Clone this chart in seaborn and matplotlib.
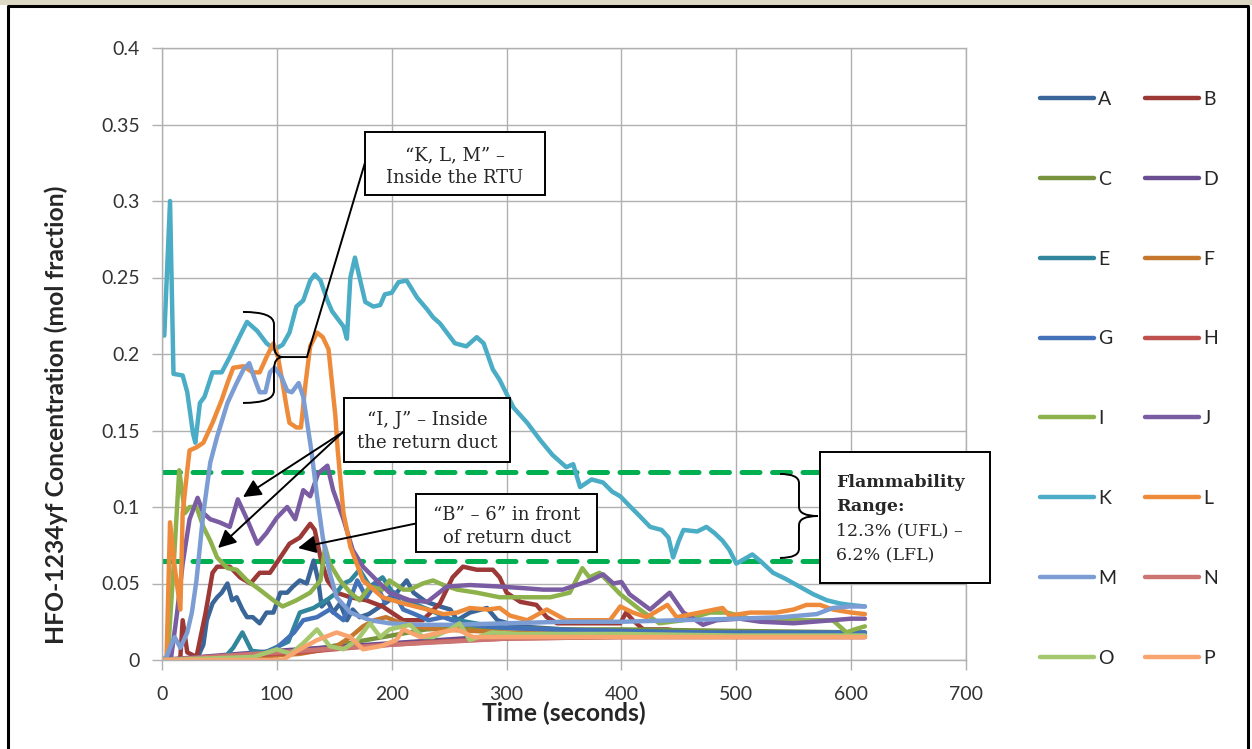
import numpy as np
import pandas as pd
import seaborn as sns
import matplotlib.pyplot as plt
from matplotlib.path import Path
from matplotlib.patches import PathPatch, Rectangle
from matplotlib.lines import Line2D

# sensor readings, HFO-1234yf mol fraction vs time (s)
time_a = [0, 30, 36, 39, 44, 48, 52, 57, 61, 65, 70, 74, 79, 85, 91, 97, 103, 109, 114, 120, 126, 132, 136, 139, 144,
          149, 155, 161, 166, 172, 180, 190, 200, 213, 219, 230, 242, 251, 257, 268, 283, 292, 310, 350, 400, 450, 500, 550, 612]
conc_a = [0, 0, 0.010, 0.026, 0.037, 0.041, 0.044, 0.050, 0.039, 0.041, 0.033, 0.028, 0.028, 0.024, 0.031, 0.031, 0.044,
          0.044, 0.048, 0.052, 0.050, 0.065, 0.052, 0.035, 0.039, 0.031, 0.037, 0.026, 0.033, 0.028, 0.030, 0.035, 0.040,
          0.052, 0.044, 0.038, 0.035, 0.033, 0.026, 0.031, 0.034, 0.026, 0.022, 0.020, 0.018, 0.017, 0.016, 0.016, 0.016]

time_b = [0, 14, 16, 18, 22, 30, 38, 44, 48, 59, 68, 77, 85, 94, 103, 111, 120, 129, 133, 138, 144, 152, 164, 178, 192,
          210, 227, 242, 253, 262, 274, 288, 294, 300, 312, 326, 335, 344, 361, 379, 399, 404, 410, 419, 440, 457, 500,
          550, 560, 570, 612]
conc_b = [0, 0, 0.002, 0.026, 0.005, 0.002, 0.031, 0.057, 0.061, 0.061, 0.054, 0.050, 0.057, 0.057, 0.067, 0.076, 0.080,
          0.089, 0.085, 0.067, 0.052, 0.044, 0.041, 0.039, 0.035, 0.026, 0.026, 0.037, 0.054, 0.061, 0.059, 0.059, 0.054,
          0.044, 0.038, 0.036, 0.028, 0.024, 0.024, 0.024, 0.024, 0.031, 0.026, 0.020, 0.020, 0.018, 0.017, 0.016, 0.018,
          0.016, 0.016]

time_c = [0, 60, 100, 140, 170, 200, 230, 260, 300, 350, 400, 500, 612]
conc_c = [0, 0.002, 0.005, 0.008, 0.012, 0.016, 0.020, 0.021, 0.021, 0.020, 0.020, 0.019, 0.018]

time_d = [0, 50, 100, 140, 180, 220, 260, 300, 400, 500, 612]
conc_d = [0, 0.003, 0.006, 0.008, 0.010, 0.012, 0.014, 0.016, 0.016, 0.016, 0.016]

time_e = [0, 55, 62, 70, 78, 90, 110, 120, 132, 145, 152, 158, 164, 172, 181, 192, 200, 210, 222, 235, 250, 265, 280,
          300, 330, 380, 450, 520, 612]
conc_e = [0, 0.002, 0.008, 0.018, 0.006, 0.005, 0.012, 0.031, 0.034, 0.040, 0.044, 0.050, 0.052, 0.059, 0.048, 0.054,
          0.045, 0.040, 0.036, 0.032, 0.027, 0.025, 0.023, 0.021, 0.020, 0.019, 0.018, 0.017, 0.017]

time_f = [0, 80, 120, 150, 164, 175, 185, 195, 205, 220, 240, 270, 300, 350, 400, 500, 612]
conc_f = [0, 0.002, 0.004, 0.008, 0.015, 0.022, 0.026, 0.028, 0.025, 0.022, 0.020, 0.019, 0.018, 0.017, 0.017, 0.016, 0.016]

time_g = [0, 80, 100, 115, 123, 135, 146, 158, 164, 170, 178, 186, 194, 202, 210, 220, 232, 245, 260, 280, 300, 340,
          400, 470, 540, 612]
conc_g = [0, 0.002, 0.008, 0.018, 0.026, 0.028, 0.033, 0.026, 0.040, 0.052, 0.041, 0.050, 0.038, 0.044, 0.033, 0.030,
          0.026, 0.028, 0.024, 0.022, 0.021, 0.020, 0.019, 0.018, 0.018, 0.018]

time_h = [0, 60, 120, 180, 240, 300, 400, 500, 612]
conc_h = [0, 0.002, 0.005, 0.009, 0.012, 0.014, 0.015, 0.015, 0.015]

time_i = [0, 5, 10, 15, 20, 24, 30, 36, 42, 48, 57, 65, 74, 85, 97, 105, 117, 129, 138, 142, 146, 155, 164, 172, 181,
          192, 198, 210, 216, 227, 236, 245, 257, 274, 294, 314, 338, 355, 366, 372, 381, 390, 399, 416, 433, 454, 477,
          492, 512, 544, 584, 596, 603, 612]
conc_i = [0, 0.002, 0.060, 0.124, 0.096, 0.100, 0.100, 0.087, 0.078, 0.067, 0.060, 0.059, 0.052, 0.046, 0.039, 0.035,
          0.039, 0.044, 0.052, 0.074, 0.063, 0.052, 0.044, 0.039, 0.048, 0.046, 0.052, 0.046, 0.046, 0.050, 0.052, 0.049,
          0.046, 0.044, 0.041, 0.041, 0.041, 0.044, 0.060, 0.054, 0.057, 0.050, 0.043, 0.033, 0.024, 0.026, 0.031, 0.031,
          0.027, 0.026, 0.026, 0.018, 0.020, 0.022]

time_j = [0, 8, 13, 18, 24, 31, 36, 42, 50, 59, 66, 74, 83, 91, 100, 109, 116, 123, 129, 136, 144, 149, 158, 166, 175,
          187, 198, 216, 231, 248, 268, 294, 314, 332, 349, 361, 373, 384, 393, 400, 407, 425, 442, 454, 471, 483, 503,
          521, 550, 584, 600, 612]
conc_j = [0, 0.002, 0.030, 0.063, 0.092, 0.106, 0.096, 0.092, 0.090, 0.087, 0.105, 0.092, 0.076, 0.083, 0.093, 0.100,
          0.092, 0.111, 0.107, 0.122, 0.127, 0.111, 0.092, 0.072, 0.061, 0.052, 0.044, 0.039, 0.038, 0.048, 0.049, 0.048,
          0.047, 0.046, 0.046, 0.049, 0.052, 0.056, 0.050, 0.051, 0.043, 0.033, 0.044, 0.031, 0.023, 0.026, 0.027, 0.025,
          0.024, 0.026, 0.027, 0.027]

time_k = [2, 7, 10, 18, 22, 27, 29, 33, 37, 44, 52, 59, 66, 74, 83, 91, 98, 105, 111, 117, 123, 129, 133, 138, 144, 148,
          152, 158, 161, 164, 168, 172, 177, 184, 190, 194, 200, 206, 213, 222, 231, 236, 242, 248, 255, 265, 274, 280,
          288, 294, 306, 318, 329, 340, 352, 358, 364, 374, 384, 392, 399, 408, 416, 425, 435, 441, 445, 450, 454, 466,
          474, 481, 488, 494, 500, 507, 514, 522, 532, 543, 555, 567, 579, 590, 599, 612]
conc_k = [0.212, 0.300, 0.187, 0.186, 0.175, 0.148, 0.142, 0.168, 0.172, 0.188, 0.188, 0.198, 0.209, 0.221, 0.215, 0.207,
          0.203, 0.206, 0.214, 0.231, 0.235, 0.248, 0.252, 0.248, 0.235, 0.228, 0.224, 0.218, 0.210, 0.250, 0.263, 0.250,
          0.234, 0.231, 0.232, 0.239, 0.240, 0.247, 0.248, 0.237, 0.229, 0.224, 0.220, 0.214, 0.207, 0.205, 0.211, 0.207,
          0.190, 0.183, 0.165, 0.155, 0.144, 0.134, 0.126, 0.128, 0.113, 0.118, 0.116, 0.110, 0.107, 0.100, 0.094, 0.087,
          0.085, 0.080, 0.067, 0.078, 0.085, 0.084, 0.087, 0.083, 0.078, 0.072, 0.063, 0.066, 0.069, 0.064, 0.057, 0.053,
          0.048, 0.043, 0.039, 0.037, 0.036, 0.035]

time_l = [0, 4, 7, 11, 16, 18, 22, 24, 30, 36, 44, 52, 57, 62, 71, 79, 85, 91, 97, 101, 105, 109, 111, 117, 121, 125,
          129, 135, 140, 145, 148, 151, 153, 158, 164, 175, 192, 210, 231, 245, 257, 268, 283, 294, 303, 318, 335, 352,
          372, 390, 399, 410, 422, 440, 448, 468, 488, 494, 512, 535, 550, 561, 573, 584, 600, 612]
conc_l = [0, 0.002, 0.090, 0.061, 0.033, 0.096, 0.124, 0.137, 0.139, 0.142, 0.155, 0.170, 0.181, 0.191, 0.192, 0.188,
          0.188, 0.198, 0.207, 0.198, 0.181, 0.163, 0.155, 0.152, 0.152, 0.181, 0.205, 0.214, 0.211, 0.203, 0.181, 0.159,
          0.137, 0.096, 0.074, 0.052, 0.041, 0.037, 0.033, 0.030, 0.031, 0.034, 0.033, 0.034, 0.029, 0.026, 0.033, 0.026,
          0.026, 0.026, 0.035, 0.031, 0.028, 0.036, 0.028, 0.031, 0.034, 0.029, 0.031, 0.031, 0.033, 0.036, 0.036, 0.033,
          0.031, 0.030]

time_m = [0, 4, 7, 11, 16, 22, 26, 30, 36, 42, 48, 57, 65, 71, 76, 81, 85, 90, 94, 98, 104, 109, 113, 119, 123, 127,
          130, 135, 140, 146, 152, 164, 181, 198, 222, 251, 300, 350, 400, 450, 500, 540, 570, 584, 599, 612]
conc_m = [0, 0.002, 0.008, 0.015, 0.008, 0.018, 0.031, 0.052, 0.096, 0.129, 0.146, 0.168, 0.181, 0.190, 0.194, 0.183,
          0.175, 0.175, 0.188, 0.191, 0.185, 0.176, 0.175, 0.181, 0.172, 0.152, 0.137, 0.107, 0.080, 0.057, 0.041, 0.031,
          0.026, 0.024, 0.023, 0.023, 0.024, 0.025, 0.025, 0.026, 0.027, 0.028, 0.030, 0.034, 0.035, 0.035]

time_n = [0, 40, 80, 120, 160, 200, 250, 300, 400, 500, 612]
conc_n = [0, 0.002, 0.004, 0.006, 0.008, 0.010, 0.012, 0.014, 0.015, 0.015, 0.015]

time_o = [0, 80, 100, 112, 123, 135, 146, 158, 170, 181, 190, 198, 216, 227, 236, 251, 259, 268, 287, 310, 350, 400, 500, 612]
conc_o = [0, 0.002, 0.007, 0.004, 0.011, 0.020, 0.009, 0.007, 0.013, 0.024, 0.015, 0.020, 0.023, 0.015, 0.015, 0.020,
          0.024, 0.013, 0.018, 0.017, 0.017, 0.017, 0.016, 0.016]

time_p = [0, 105, 120, 135, 152, 164, 175, 190, 204, 210, 225, 242, 257, 271, 300, 350, 400, 500, 612]
conc_p = [0, 0, 0.007, 0.013, 0.018, 0.015, 0.007, 0.009, 0.013, 0.020, 0.015, 0.018, 0.020, 0.015, 0.015, 0.015, 0.015,
          0.015, 0.015]

sensors = list('ABCDEFGHIJKLMNOP')
times = [time_a, time_b, time_c, time_d, time_e, time_f, time_g, time_h,
         time_i, time_j, time_k, time_l, time_m, time_n, time_o, time_p]
concs = [conc_a, conc_b, conc_c, conc_d, conc_e, conc_f, conc_g, conc_h,
         conc_i, conc_j, conc_k, conc_l, conc_m, conc_n, conc_o, conc_p]
colors = ['#3A6599', '#9C3835', '#77933C', '#6B4E91', '#31869B', '#C6772E', '#4472B8', '#C0504D',
          '#8DB14B', '#7A5CA3', '#4BACC6', '#EE8B3A', '#7B9DD3', '#CC7472', '#A5C86F', '#F8A46E']

ufl = 0.123
lfl = 0.065
x_ticks = [0, 100, 200, 300, 400, 500, 600, 700]
y_ticks = [0, 0.05, 0.1, 0.15, 0.2, 0.25, 0.3, 0.35, 0.4]
y_labels = ['0', '0.05', '0.1', '0.15', '0.2', '0.25', '0.3', '0.35', '0.4']

df = pd.concat([pd.DataFrame({'time': t, 'conc': c, 'sensor': s})
                for s, t, c in zip(sensors, times, concs)], ignore_index=True)

sns.set_style('white')
plt.rcParams['font.family'] = ['Lato', 'DejaVu Sans']

fig = plt.figure(figsize=(12.52, 7.49), dpi=100)
ax = fig.add_axes([162 / 1252, 1 - 660 / 749, 804 / 1252, 612 / 749])

sns.lineplot(data=df, x='time', y='conc', hue='sensor', hue_order=sensors,
             palette=dict(zip(sensors, colors)), lw=3.2, estimator=None,
             sort=False, legend=False, ax=ax)
for ln in ax.lines:
    ln.set_solid_joinstyle('round')
    ln.set_solid_capstyle('round')

# flammability limits
for lim in (ufl, lfl):
    ax.plot([0, 573], [lim, lim], color='#00B050', lw=3.6, ls=(0, (3.6, 2.5)),
            dash_capstyle='round', zorder=1.5)

ax.set_xlim(0, 700)
ax.set_ylim(0, 0.4)
ax.set_xticks(x_ticks)
ax.set_yticks(y_ticks)
ax.set_yticklabels(y_labels)
ax.grid(True, color='#B0B0B0', lw=1.0)
ax.set_axisbelow(True)
for sp in ax.spines.values():
    sp.set_color('#B0B0B0')
    sp.set_linewidth(1.0)
ax.tick_params(axis='both', which='major', direction='out', length=7, width=1.0,
               color='#B0B0B0', labelsize=14, labelcolor='#333333', pad=9,
               left=True, bottom=True)
ax.tick_params(axis='x', pad=12)
ax.set_xlabel('Time (seconds)', fontsize=17.8, fontweight='bold')
ax.set_ylabel('HFO-1234yf Concentration (mol fraction)', fontsize=17.8, fontweight='bold')
ax.xaxis.set_label_coords(0.5, -0.068)
ax.yaxis.set_label_coords(-0.117, 0.40)


def brace(x0, xv, xt, y_top, y_mid, y_bot, r):
    verts = [(x0, y_top), (xv, y_top), (xv, y_top - r),
             (xv, y_mid + r), (xv, y_mid), (xt, y_mid),
             (xv, y_mid), (xv, y_mid - r),
             (xv, y_bot + r), (xv, y_bot), (x0, y_bot)]
    codes = [Path.MOVETO, Path.CURVE3, Path.CURVE3,
             Path.LINETO, Path.CURVE3, Path.CURVE3,
             Path.CURVE3, Path.CURVE3,
             Path.LINETO, Path.CURVE3, Path.CURVE3]
    ax.add_patch(PathPatch(Path(verts, codes), fill=False, lw=1.4, ec='black',
                           zorder=5, clip_on=False))


serif = ['DejaVu Serif']
note_size = 13


def note_box(x0, x1, y0, y1):
    ax.add_patch(Rectangle((x0, y0), x1 - x0, y1 - y0, fc='white', ec='black',
                           lw=1.4, zorder=6, clip_on=False))


# K, L, M note
brace(70.5, 97.5, 105.3, 0.2275, 0.198, 0.168, 0.008)
ax.plot([105.3, 126.2, 176.7], [0.198, 0.198, 0.325], color='black', lw=1.4, zorder=5)
note_box(176.7, 333.4, 0.304, 0.345)
ax.text(255, 0.3300, '\u201cK, L, M\u201d \u2013', ha='center', va='center', fontsize=note_size,
        family=serif, zorder=7)
ax.text(255, 0.3150, 'Inside the RTU', ha='center', va='center', fontsize=note_size,
        family=serif, zorder=7)

# I, J note
arrow = dict(arrowstyle='-|>,head_length=0.6,head_width=0.3', color='black', lw=1.4,
             mutation_scale=18, shrinkA=0, shrinkB=0)
ax.annotate('', xy=(70.5, 0.1065), xytext=(157.6, 0.149), arrowprops=arrow, zorder=5)
ax.annotate('', xy=(48.8, 0.0732), xytext=(157.6, 0.149), arrowprops=arrow, zorder=5)
note_box(158.5, 303.0, 0.1294, 0.1712)
ax.text(231, 0.1569, '\u201cI, J\u201d \u2013 Inside', ha='center', va='center', fontsize=note_size,
        family=serif, zorder=7)
ax.text(231, 0.1418, 'the return duct', ha='center', va='center', fontsize=note_size,
        family=serif, zorder=7)

# B note
ax.annotate('', xy=(118.4, 0.0732), xytext=(222.9, 0.0895), arrowprops=arrow, zorder=5)
note_box(221.1, 378.7, 0.0706, 0.1085)
ax.text(300, 0.0948, '\u201cB\u201d \u2013 6\u201d in front', ha='center', va='center', fontsize=note_size,
        family=serif, zorder=7)
ax.text(300, 0.0797, 'of return duct', ha='center', va='center', fontsize=note_size,
        family=serif, zorder=7)

# flammability range note
brace(538, 554.6, 571, 0.1216, 0.0941, 0.0667, 0.006)
note_box(572.9, 720.9, 0.0503, 0.1359)
fl_lines = [('Flammability', 'bold'), ('Range:', 'bold'),
            ('12.3% (UFL) \u2013', 'normal'), ('6.2% (LFL)', 'normal')]
for n, (txt, wt) in enumerate(fl_lines):
    ax.text(586.5, 0.1163 - n * 0.0160, txt, ha='left', va='center', fontsize=12.5,
            fontweight=wt, family=serif, zorder=7, clip_on=False)

# legend, filled row by row like the original
order = sensors[0::2] + sensors[1::2]
handles = [Line2D([], [], color=colors[sensors.index(s)], lw=3.2, solid_capstyle='round')
           for s in order]
fig.legend(handles, order, ncol=2, loc='upper left', bbox_to_anchor=(1040 / 1252, 1 - 91 / 749),
           frameon=False, fontsize=14, handlelength=2.8, handletextpad=0.2,
           columnspacing=1.45, labelspacing=3.23, borderpad=0, borderaxespad=0)

# frame around the picture
fig.patches.append(Rectangle((0, 1 - 5 / 749), 1, 5 / 749, transform=fig.transFigure,
                             fc='#DDD8C4', ec='none'))
fig.lines.append(Line2D([8 / 1252, 8 / 1252, 1248 / 1252, 1248 / 1252],
                        [0, 1 - 6 / 749, 1 - 6 / 749, 0], transform=fig.transFigure,
                        color='black', lw=2.2))

fig.savefig('out.png', dpi=100)
